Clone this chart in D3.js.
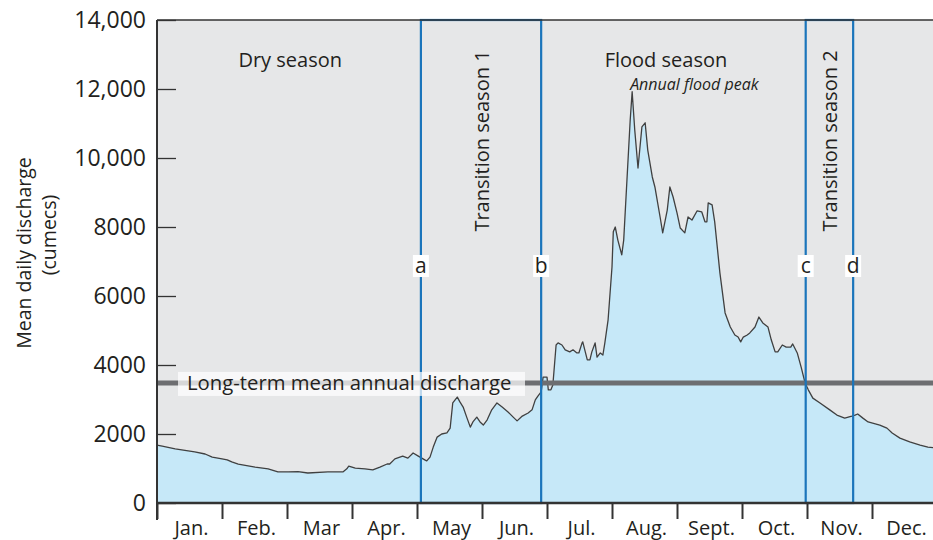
<!DOCTYPE html>
<html>
<head>
<meta charset="utf-8">
<script src="https://cdn.jsdelivr.net/npm/d3@7"></script>
<style>
  html, body { margin: 0; padding: 0; background: #ffffff; }
  svg { display: block; font-family: "Open Sans", "Noto Sans", sans-serif; }
  text { fill: #231f20; }
</style>
</head>
<body>
<svg id="chart" width="933" height="540"></svg>
<script>
// Month labels along the x axis (each month is one unit of the x scale)
const months = ["Jan.", "Feb.", "Mar", "Apr.", "May", "Jun.", "Jul.", "Aug.", "Sept.", "Oct.", "Nov.", "Dec."];

// Position in the year, measured in months from 1 January
const monthPos = [
  0.00, 0.08, 0.28, 0.58, 0.74, 0.85, 1.00, 1.08, 1.15, 1.25, 1.51, 1.71, 1.86, 2.02, 2.17, 2.32,
  2.63, 2.86, 2.92, 2.95, 3.05, 3.20, 3.32, 3.43, 3.54, 3.58, 3.66, 3.78, 3.86, 3.94, 4.02, 4.12,
  4.15, 4.20, 4.25, 4.31, 4.38, 4.46, 4.51, 4.55, 4.62, 4.66, 4.71, 4.77, 4.82, 4.86, 4.92, 4.97,
  5.02, 5.08, 5.15, 5.23, 5.31, 5.40, 5.48, 5.54, 5.62, 5.71, 5.77, 5.82, 5.86, 5.91, 5.94, 6.00,
  6.02, 6.06, 6.09, 6.14, 6.17, 6.23, 6.28, 6.35, 6.40, 6.46, 6.49, 6.54, 6.55, 6.62, 6.66, 6.69,
  6.74, 6.77, 6.82, 6.86, 6.89, 6.94, 7.00, 7.02, 7.05, 7.09, 7.15, 7.18, 7.23, 7.28, 7.31, 7.35,
  7.40, 7.46, 7.51, 7.55, 7.62, 7.66, 7.74, 7.78, 7.85, 7.89, 7.94, 8.00, 8.05, 8.12, 8.17, 8.23,
  8.31, 8.38, 8.43, 8.46, 8.48, 8.54, 8.58, 8.66, 8.74, 8.82, 8.89, 8.94, 8.98, 9.02, 9.08, 9.12,
  9.20, 9.26, 9.32, 9.40, 9.45, 9.51, 9.55, 9.62, 9.68, 9.75, 9.78, 9.85, 9.91, 9.97, 10.02, 10.09,
  10.20, 10.35, 10.46, 10.58, 10.69, 10.74, 10.78, 10.86, 10.94, 11.12, 11.23, 11.31, 11.43, 11.58, 11.74, 11.86,
  12.00
];

// Mean daily discharge (cumecs) at each position above
const discharge = [
  1680, 1650, 1570, 1480, 1420, 1330, 1280, 1250, 1190, 1130, 1040, 990, 900, 900, 910, 870,
  900, 900, 990, 1070, 1010, 990, 960, 1040, 1130, 1130, 1280, 1360, 1300, 1450, 1360, 1250,
  1220, 1330, 1620, 1910, 2000, 2030, 2170, 2900, 3070, 2930, 2780, 2460, 2200, 2350, 2490, 2350,
  2260, 2410, 2700, 2900, 2780, 2640, 2490, 2380, 2520, 2610, 2700, 2990, 3100, 3220, 3650, 3650,
  3280, 3280, 3420, 4580, 4640, 4580, 4440, 4380, 4440, 4350, 4350, 4640, 4670, 4150, 4150, 4380,
  4640, 4230, 4350, 4290, 4640, 5310, 6840, 7860, 8000, 7620, 7190, 7620, 9360, 11100, 11920, 10810,
  9710, 10900, 11020, 10230, 9450, 9160, 8290, 7830, 8490, 9160, 8870, 8410, 7970, 7830, 8290, 8200,
  8470, 8440, 8150, 8150, 8700, 8640, 8150, 6670, 5510, 5100, 4870, 4810, 4670, 4810, 4870, 4930,
  5100, 5390, 5220, 5100, 4730, 4380, 4380, 4580, 4520, 4520, 4610, 4350, 3940, 3480, 3280, 3040,
  2900, 2700, 2550, 2460, 2520, 2550, 2580, 2460, 2350, 2260, 2170, 2030, 1880, 1770, 1680, 1620,
  1590
];

// Y axis ticks
const yTicks = [0, 2000, 4000, 6000, 8000, 10000, 12000, 14000];
const yTickLabels = ["0", "2000", "4000", "6000", "8000", "10,000", "12,000", "14,000"];

// Long-term mean annual discharge (cumecs)
const meanDischarge = 3480;

// Transition seasons: start and end as month positions, with boundary letters
const transitionStart = [4.06, 9.98];
const transitionEnd = [5.91, 10.71];
const transitionNames = ["Transition season 1", "Transition season 2"];
const boundaryLetters = [["a", "b"], ["c", "d"]];

// Season headings
const seasonNames = ["Dry season", "Flood season"];
const seasonCentres = [2.05, 7.83];

const svg = d3.select("#chart");
const plotLeft = 157, plotRight = 937, plotTop = 20, plotBottom = 503;

const x = d3.scaleLinear().domain([0, 12]).range([plotLeft, plotRight]);
const y = d3.scaleLinear().domain([0, 14000]).range([plotBottom, plotTop]);

const series = monthPos.map((m, i) => ({ m, v: discharge[i] }));

// Plot background
svg.append("rect")
  .attr("x", plotLeft).attr("y", plotTop)
  .attr("width", plotRight - plotLeft).attr("height", plotBottom - plotTop)
  .attr("fill", "#e6e7e8");

// Discharge area and outline
svg.append("path")
  .datum(series)
  .attr("fill", "#c6e8f8")
  .attr("d", d3.area().x(d => x(d.m)).y0(y(0)).y1(d => y(d.v)));

svg.append("path")
  .datum(series)
  .attr("fill", "none")
  .attr("stroke", "#404040")
  .attr("stroke-width", 1.3)
  .attr("stroke-linejoin", "round")
  .attr("d", d3.line().x(d => x(d.m)).y(d => y(d.v)));

// Long-term mean line
svg.append("line")
  .attr("x1", plotLeft).attr("x2", plotRight)
  .attr("y1", y(meanDischarge)).attr("y2", y(meanDischarge))
  .attr("stroke", "#6d6e71")
  .attr("stroke-width", 5);

// Transition season boxes
transitionStart.forEach((s, i) => {
  const e = transitionEnd[i];
  svg.append("rect")
    .attr("x", x(s)).attr("y", y(14000))
    .attr("width", x(e) - x(s)).attr("height", y(0) - y(14000))
    .attr("fill", "none")
    .attr("stroke", "#1b75bb")
    .attr("stroke-width", 2.2);

  svg.append("text")
    .attr("transform", `translate(${(x(s) + x(e)) / 2 + 8},${y(10000) - 17}) rotate(-90)`)
    .attr("text-anchor", "middle")
    .attr("font-size", 20)
    .text(transitionNames[i]);

  [s, e].forEach((b, j) => {
    const cx = x(b);
    const cy = 266;
    svg.append("rect")
      .attr("x", cx - 8).attr("y", cy - 11)
      .attr("width", 16).attr("height", 22)
      .attr("fill", "#ffffff");
    svg.append("text")
      .attr("x", cx).attr("y", cy + 7)
      .attr("text-anchor", "middle")
      .attr("font-size", 21)
      .text(boundaryLetters[i][j]);
  });
});

// Label on the mean line
const meanY = y(meanDischarge);
svg.append("rect")
  .attr("x", 178).attr("y", meanY - 11)
  .attr("width", 347).attr("height", 24)
  .attr("fill", "#ffffff")
  .attr("fill-opacity", 0.72);
svg.append("text")
  .attr("x", 187).attr("y", meanY + 7)
  .attr("font-size", 20.3)
  .text("Long-term mean annual discharge");

// Season headings
seasonNames.forEach((name, i) => {
  svg.append("text")
    .attr("x", x(seasonCentres[i])).attr("y", 67)
    .attr("text-anchor", "middle")
    .attr("font-size", 20)
    .text(name);
});

// Annual flood peak annotation
const peakIdx = d3.maxIndex(discharge);
svg.append("text")
  .attr("x", x(monthPos[peakIdx]) - 2).attr("y", 90)
  .attr("font-size", 16)
  .attr("font-style", "italic")
  .text("Annual flood peak");

// Frame: top border
svg.append("line")
  .attr("x1", plotLeft).attr("x2", plotRight)
  .attr("y1", plotTop).attr("y2", plotTop)
  .attr("stroke", "#333333").attr("stroke-width", 1.5);

// Y axis with inward ticks
const yAxis = d3.axisRight(y)
  .tickValues(yTicks)
  .tickSize(19)
  .tickFormat((d, i) => yTickLabels[i]);

const yg = svg.append("g")
  .attr("transform", `translate(${plotLeft},0)`)
  .call(yAxis);
yg.select(".domain").remove();
yg.selectAll(".tick line").attr("stroke", "#333333").attr("stroke-width", 1.3);
yg.selectAll(".tick text")
  .attr("x", -11)
  .attr("text-anchor", "end")
  .attr("font-size", 23)
  .attr("font-family", "\"Open Sans\", sans-serif")
  .attr("fill", "#231f20");

svg.append("line")
  .attr("x1", plotLeft).attr("x2", plotLeft)
  .attr("y1", plotTop).attr("y2", plotBottom + 17)
  .attr("stroke", "#333333").attr("stroke-width", 2);

// X axis: month boundary ticks with centred month names
const xAxis = d3.axisBottom(x)
  .tickValues(d3.range(0, 13))
  .tickSize(16)
  .tickFormat("");
const xg = svg.append("g")
  .attr("transform", `translate(0,${plotBottom})`)
  .call(xAxis);
xg.select(".domain").remove();
xg.selectAll(".tick line").attr("stroke", "#333333").attr("stroke-width", 2);

svg.append("line")
  .attr("x1", plotLeft).attr("x2", plotRight)
  .attr("y1", plotBottom).attr("y2", plotBottom)
  .attr("stroke", "#333333").attr("stroke-width", 2.5);

svg.append("g")
  .selectAll("text")
  .data(months)
  .join("text")
  .attr("x", (d, i) => x(i + 0.5) + 2)
  .attr("y", 535)
  .attr("text-anchor", "middle")
  .attr("font-size", 20)
  .text(d => d);

// Y axis title
svg.append("text")
  .attr("transform", "translate(31,253) rotate(-90)")
  .attr("text-anchor", "middle")
  .attr("font-size", 19.5)
  .text("Mean daily discharge");
svg.append("text")
  .attr("transform", "translate(56,235) rotate(-90)")
  .attr("text-anchor", "middle")
  .attr("font-size", 19.5)
  .text("(cumecs)");
</script>
</body>
</html>
